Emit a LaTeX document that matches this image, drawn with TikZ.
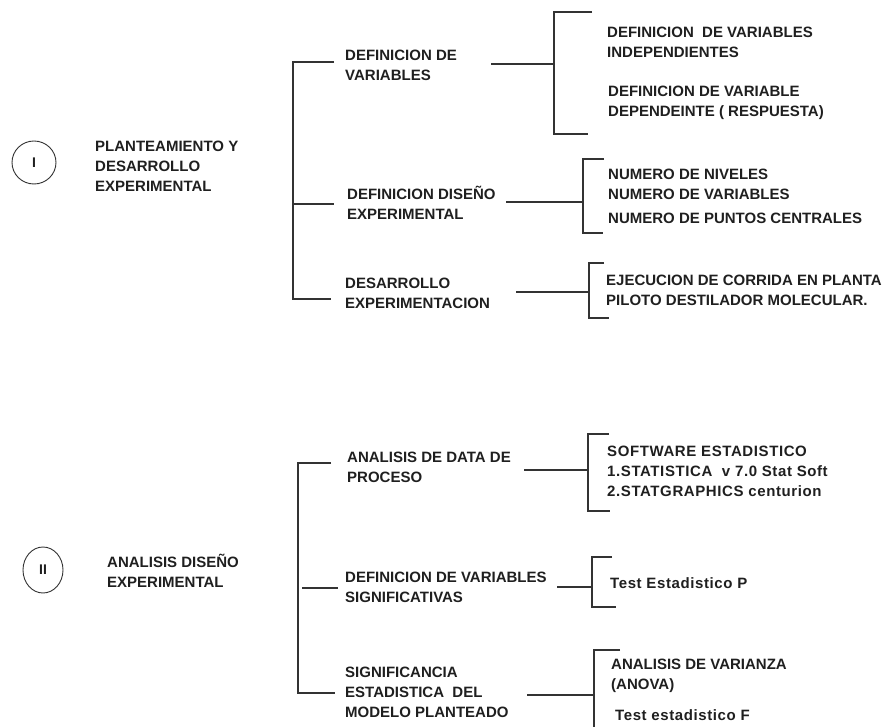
\documentclass[tikz,border=0pt]{standalone}
\usepackage{fontspec}
\setmainfont{Liberation Sans}
\usetikzlibrary{shapes.geometric}
\begin{document}
\begin{tikzpicture}[x=1pt,y=-1pt,
  lbl/.style={anchor=west,inner sep=0pt,align=left,text=black!88,font=\bfseries\fontsize{15}{20}\selectfont},
  wide/.style={font=\bfseries\fontsize{15}{20}\selectfont\addfontfeature{LetterSpace=4}},
  br/.style={line width=1.6pt,draw=black!80},
  roman/.style={draw=black!80,ellipse,line width=0.9pt,inner sep=0pt,text=black!88,font=\bfseries\fontsize{14}{14}\selectfont}]
\useasboundingbox (0,0) rectangle (884,727);

% ===== Section I =====
\node[roman,minimum width=44pt,minimum height=43pt] (c1) at (34,162.5) {I};
\node[lbl] (t1) at (95,166) {PLANTEAMIENTO Y\\DESARROLLO\\EXPERIMENTAL};

\coordinate (m1t) at (293,62);
\coordinate (m1m) at (293,204);
\coordinate (m1b) at (293,299);
\draw[br] (334,62) -- (m1t) -- (m1b) -- (331,299);
\draw[br] (m1m) -- (334,204);

\node[lbl] (a1) at (345,65) {DEFINICION DE\\VARIABLES};
\node[lbl] (a2) at (347,203) {DEFINICION DISEÑO\\EXPERIMENTAL};
\node[lbl] (a3) at (345,293) {DESARROLLO\\EXPERIMENTACION};

% bracket for a1
\coordinate (b1t) at (554,12);
\coordinate (b1m) at (554,64);
\coordinate (b1b) at (554,134);
\draw[br] (491,64) -- (b1m);
\draw[br] (592,12) -- (b1t) -- (b1b) -- (588,134);
\node[lbl] (a1x) at (607,42) {DEFINICION\ \ DE VARIABLES\\INDEPENDIENTES};
\node[lbl] (a1y) at (608,103) {DEFINICION DE VARIABLE\\DEPENDEINTE ( RESPUESTA)};

% bracket for a2
\coordinate (b2t) at (583,159);
\coordinate (b2m) at (583,202);
\coordinate (b2b) at (583,233);
\draw[br] (506,202) -- (b2m);
\draw[br] (604,159) -- (b2t) -- (b2b) -- (603,233);
\node[lbl] (a2x) at (608,174) {NUMERO DE NIVELES};
\node[lbl] (a2y) at (608,194) {NUMERO DE VARIABLES};
\node[lbl] (a2z) at (608,218) {NUMERO DE PUNTOS CENTRALES};

% bracket for a3
\coordinate (b3t) at (589,263);
\coordinate (b3m) at (589,292);
\coordinate (b3b) at (589,318);
\draw[br] (516,292) -- (b3m);
\draw[br] (604,263) -- (b3t) -- (b3b) -- (609,318);
\node[lbl] (a3x) at (606,290) {EJECUCION DE CORRIDA EN PLANTA\\PILOTO DESTILADOR MOLECULAR.};

% ===== Section II =====
\node[roman,minimum width=40pt,minimum height=46pt] (c2) at (43,570) {II};
\node[lbl] (t2) at (107,570.5) {ANALISIS DISEÑO\\EXPERIMENTAL};

\coordinate (m2t) at (298,463);
\coordinate (m2m) at (298,588);
\coordinate (m2b) at (298,693);
\draw[br] (331,463) -- (m2t) -- (m2b) -- (335,693);
\draw[br] (302,588) -- (338,588);

\node[lbl] (d1) at (347,467) {ANALISIS DE DATA DE\\PROCESO};
\node[lbl] (d2) at (345,587) {DEFINICION DE VARIABLES\\SIGNIFICATIVAS};
\node[lbl] (d3) at (345,692) {SIGNIFICANCIA\\ESTADISTICA\ \ DEL\\MODELO PLANTEADO};

% bracket for d1
\coordinate (e1t) at (588,434);
\coordinate (e1m) at (588,470);
\coordinate (e1b) at (588,511);
\draw[br] (524,470) -- (e1m);
\draw[br] (609,434) -- (e1t) -- (e1b) -- (610,511);
\node[lbl,wide] (d1x) at (607,471) {SOFTWARE ESTADISTICO\\1.STATISTICA\ \ v 7.0 Stat Soft\\2.STATGRAPHICS centurion};

% bracket for d2
\coordinate (e2t) at (592,557);
\coordinate (e2m) at (592,587);
\coordinate (e2b) at (592,607);
\draw[br] (557,587) -- (e2m);
\draw[br] (612,557) -- (e2t) -- (e2b) -- (616,607);
\node[lbl,wide] (d2x) at (610,583) {Test Estadistico P};

% bracket for d3
\coordinate (e3t) at (594,650);
\coordinate (e3m) at (594,695);
\coordinate (e3b) at (594,727);
\draw[br] (527,695) -- (e3m);
\draw[br] (620,650) -- (e3t) -- (e3b);
\node[lbl] (d3x) at (611,676) {ANALISIS DE VARIANZA\\(ANOVA)};
\node[lbl,wide] (d3y) at (615,715) {Test estadistico F};
\end{tikzpicture}
\end{document}
